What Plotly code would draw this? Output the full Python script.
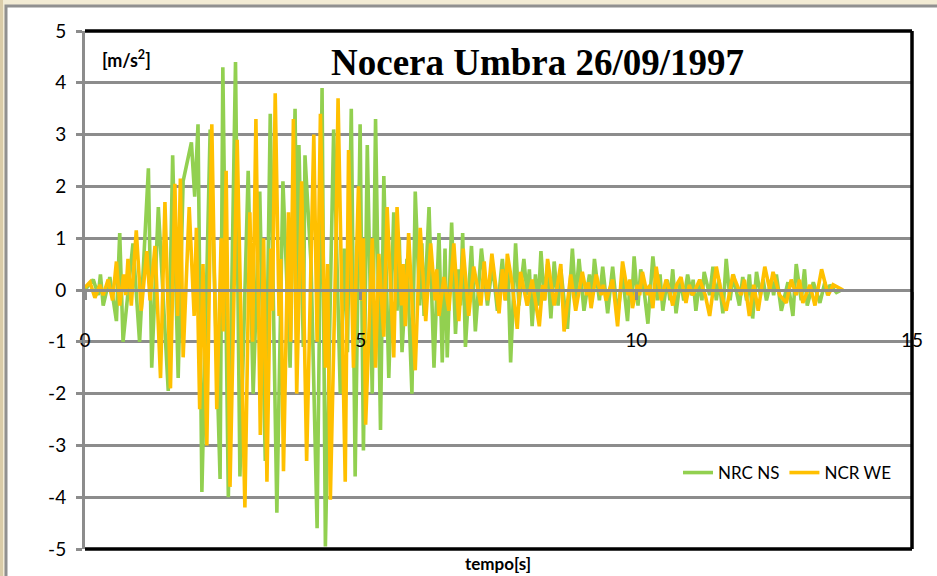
import plotly.graph_objects as go

# ---------------- data ----------------
t_ns = [0.00, 0.15, 0.24, 0.28, 0.33, 0.45, 0.57, 0.63, 0.69, 0.87, 0.99, 1.15, 1.21, 1.33, 1.51,
        1.59, 1.69, 1.78, 1.93, 1.99, 2.05, 2.12, 2.27, 2.45, 2.50, 2.60, 2.73, 2.81, 2.96, 3.05,
        3.17, 3.27, 3.36, 3.48, 3.59, 3.72, 3.81, 3.85, 3.88, 3.96, 3.99, 4.10, 4.21, 4.30, 4.36,
        4.51, 4.63, 4.70, 4.76, 4.83, 4.90, 4.99, 5.05, 5.12, 5.21, 5.27, 5.36, 5.42, 5.51, 5.60,
        5.66, 5.70, 5.75, 5.84, 5.93, 5.99, 6.07, 6.11, 6.15, 6.24, 6.33, 6.42, 6.48, 6.53, 6.57,
        6.65, 6.72, 6.78, 6.81, 6.85, 6.90, 7.01, 7.08, 7.19, 7.30, 7.39, 7.48, 7.57, 7.63, 7.67,
        7.72, 7.81, 7.87, 7.96, 8.02, 8.06, 8.11, 8.17, 8.22, 8.27, 8.33, 8.39, 8.45, 8.51, 8.58,
        8.63, 8.69, 8.75, 8.84, 8.90, 8.96, 9.05, 9.15, 9.19, 9.24, 9.33, 9.39, 9.48, 9.57, 9.66,
        9.75, 9.84, 9.89, 9.92, 9.96, 10.03, 10.08, 10.14, 10.21, 10.30, 10.38, 10.43, 10.48, 10.56,
        10.61, 10.66, 10.72, 10.80, 10.86, 10.93, 11.00, 11.03, 11.08, 11.15, 11.19, 11.23, 11.33,
        11.39, 11.45, 11.50, 11.57, 11.63, 11.70, 11.76, 11.81, 11.87, 11.93, 12.00, 12.05, 12.11,
        12.18, 12.25, 12.30, 12.36, 12.45, 12.49, 12.54, 12.63, 12.75, 12.84, 12.90, 12.99, 13.05,
        13.10, 13.21, 13.33, 13.42, 13.47, 13.51, 13.63, 13.72]
a_ns = [0.0, 0.2, -0.1, 0.3, -0.3, 0.25, -0.6, 1.1, -1.0, 0.9, -1.0, 2.35, -1.5, 1.6, -1.95,
        2.6, -1.7, 2.1, 2.85, 1.8, 3.2, -3.9, 3.1, -3.65, 4.3, -4.0, 4.4, -3.6, 2.3, -2.0,
        1.9, -3.3, 3.4, -4.3, 2.1, -1.5, 3.5, -0.5, 2.8, -1.1, 2.6, 0.5, -4.6, 3.9, -4.95,
        3.1, -2.0, 0.8, -1.2, 3.5, -3.6, 3.2, -3.1, 2.8, -2.0, 3.3, -2.7, 2.2, -1.7, 1.5,
        -0.4, 1.0, -1.2, 0.6, -2.0, 1.9, -0.3, 0.9, -0.5, 1.6, -1.5, 1.1, -1.4, 0.8, -1.3,
        1.3, -0.85, 0.4, -0.3, 1.1, -1.1, 0.85, -0.8, 0.8, -0.3, 0.5, -0.4, 0.6, -0.2, 0.5,
        -1.4, 0.9, -0.3, 0.6, -0.1, 0.4, -0.7, 0.3, -0.3, 0.75, -0.2, 0.5, -0.55, 0.55, -0.3,
        0.4, -0.2, -0.75, 0.8, -0.2, 0.6, -0.4, 0.3, -0.2, 0.6, -0.2, 0.45, -0.45, 0.45, -0.5,
        0.3, -0.6, 0.2, -0.2, 0.65, -0.3, 0.4, 0.0, -0.65, 0.65, -0.2, 0.3, -0.4, 0.2,
        -0.2, 0.4, -0.45, 0.2, -0.2, 0.3, -0.1, 0.2, -0.4, 0.2, -0.2, 0.35, -0.1,
        0.45, -0.2, 0.2, -0.45, 0.6, -0.2, 0.3, 0.0, -0.3, 0.25, -0.2, 0.3, -0.55,
        0.35, -0.1, 0.2, -0.2, 0.2, -0.1, 0.3, -0.4, 0.15, -0.5, 0.5, -0.2, 0.4,
        -0.3, 0.15, -0.25, 0.15, -0.1, 0.1, -0.05, 0.0]

t_we = [0.00, 0.09, 0.18, 0.27, 0.33, 0.42, 0.50, 0.57, 0.63, 0.70, 0.74, 0.78, 0.84, 0.93, 1.02,
        1.12, 1.18, 1.27, 1.37, 1.45, 1.55, 1.63, 1.68, 1.73, 1.78, 1.89, 1.98, 2.02, 2.08, 2.14,
        2.21, 2.30, 2.39, 2.47, 2.51, 2.56, 2.63, 2.76, 2.90, 2.99, 3.04, 3.10, 3.18, 3.24, 3.30,
        3.37, 3.40, 3.45, 3.52, 3.55, 3.60, 3.69, 3.73, 3.78, 3.84, 3.93, 4.02, 4.08, 4.11, 4.15,
        4.21, 4.27, 4.36, 4.40, 4.45, 4.52, 4.55, 4.59, 4.72, 4.78, 4.87, 4.96, 5.02, 5.05, 5.09,
        5.21, 5.27, 5.33, 5.42, 5.48, 5.54, 5.60, 5.66, 5.74, 5.77, 5.81, 5.87, 5.99, 6.08, 6.18,
        6.27, 6.35, 6.38, 6.42, 6.51, 6.60, 6.69, 6.78, 6.86, 6.96, 7.05, 7.18, 7.24, 7.30, 7.38,
        7.45, 7.51, 7.57, 7.62, 7.66, 7.75, 7.84, 7.90, 8.02, 8.11, 8.24, 8.30, 8.34, 8.39, 8.51,
        8.63, 8.69, 8.81, 8.90, 9.02, 9.10, 9.13, 9.18, 9.27, 9.36, 9.40, 9.45, 9.57, 9.66, 9.75,
        9.85, 9.88, 9.93, 10.02, 10.06, 10.11, 10.20, 10.24, 10.30, 10.36, 10.45, 10.54, 10.60,
        10.66, 10.73, 10.81, 10.90, 10.96, 11.02, 11.15, 11.25, 11.33, 11.45, 11.55, 11.63, 11.75,
        11.90, 11.96, 12.05, 12.13, 12.21, 12.33, 12.42, 12.48, 12.60, 12.72, 12.81, 12.90, 12.96,
        13.02, 13.15, 13.24, 13.36, 13.48, 13.57, 13.75]
a_we = [0.05, 0.15, -0.15, 0.1, -0.1, 0.2, -0.2, 0.55, -0.3, 0.3, -0.1, 0.6, -0.3, 1.15, -0.4,
        0.75, -0.2, 0.85, -1.7, 1.7, -1.9, 2.05, -0.5, 2.15, -1.3, 1.6, -0.5, 1.2, -2.3, 0.5,
        -3.0, 3.2, -2.3, 1.0, -0.8, 2.3, -3.8, 2.9, -4.2, 1.5, -1.0, 3.3, -2.8, 1.0, -3.7,
        0.8, -0.4, 3.8, -0.5, 0.6, -3.5, 1.5, -1.0, 3.3, -2.0, 2.1, -3.3, -0.5, 0.8, 3.0,
        -1.0, 3.4, -1.5, 0.5, -4.05, -1.0, 0.8, 3.7, -3.7, 2.7, -1.5, 2.0, -0.2, 1.0, -2.6,
        1.0, -1.5, 0.7, -0.9, 1.6, 0.2, -1.3, 1.6, -0.3, 0.5, -0.7, 1.1, -1.55, 1.2, -0.6,
        0.9, -0.2, 0.4, -0.5, 0.25, -0.4, 0.9, -0.6, 0.8, -0.5, 0.45, -0.3, 0.55, -0.2, 0.7,
        0.1, -0.45, 0.4, -0.2, 0.7, 0.1, -0.75, 0.35, -0.3, 0.2, -0.7, 0.1, -0.2, 0.6, -0.3,
        0.5, -0.8, 0.3, -0.4, 0.35, -0.1, 0.15, -0.35, 0.3, -0.1, 0.1, -0.2, 0.2, -0.7, 0.55,
        -0.1, 0.2, -0.35, 0.1, -0.1, 0.35, -0.1, 0.1, -0.35, 0.45, -0.2, 0.2, 0.0,
        -0.3, 0.1, 0.25, -0.25, 0.1, -0.1, 0.2, -0.1, -0.5, 0.45, -0.1, -0.4, 0.3,
        -0.1, 0.2, -0.5, 0.1, -0.4, 0.45, 0.0, 0.35, -0.1, -0.25, 0.2, -0.1, 0.2,
        -0.25, 0.1, -0.3, 0.4, -0.1, 0.1, 0.0]

series_names = ["NRC NS", "NCR WE"]
series_colors = ["#92D050", "#FFC000"]

y_tickvals = [-5, -4, -3, -2, -1, 0, 1, 2, 3, 4, 5]
y_ticktext = ["-5", "-4", "-3", "-2", "-1", "0", "1", "2", "3", "4", "5"]
x_tickvals = [0, 5, 10, 15]
x_ticktext = ["0", "5", "10", "15"]

title_text = "Nocera Umbra 26/09/1997"
unit_text = "[m/s<sup>2</sup>]"
x_title = "tempo[s]"

# ---------------- layout geometry ----------------
W, H = 937, 576
L, R, T, B = 85, 25, 31, 27
PW, PH = W - L - R, H - T - B


def px(x):
    return (x - L) / PW


def py(y):
    return (H - B - y) / PH


GRID = "#8C8C8C"
FONT = "Lato"

fig = go.Figure()
fig.add_trace(go.Scatter(x=t_ns, y=a_ns, mode="lines", name=series_names[0],
                         line=dict(color=series_colors[0], width=3.6)))
fig.add_trace(go.Scatter(x=t_we, y=a_we, mode="lines", name=series_names[1],
                         line=dict(color=series_colors[1], width=3.6)))

shapes = [
    # left darker strip of the page
    dict(type="rect", xref="paper", yref="paper", x0=px(-5), x1=px(3), y0=py(590), y1=py(-10),
         fillcolor="#DACCA8", line=dict(width=0), layer="below"),
    # white chart box (continues past the right and bottom edges)
    dict(type="rect", xref="paper", yref="paper", x0=px(6), x1=px(950), y0=py(590), y1=py(6),
         fillcolor="white", line=dict(color="#909090", width=3), layer="below"),
    # black frame (top, right, bottom)
    dict(type="line", xref="paper", yref="paper", x0=0, x1=1, y0=1, y1=1,
         line=dict(color="black", width=3.5), layer="above"),
    dict(type="line", xref="paper", yref="paper", x0=1, x1=1, y0=0, y1=1,
         line=dict(color="black", width=3.5), layer="above"),
    dict(type="line", xref="paper", yref="paper", x0=0, x1=1, y0=0, y1=0,
         line=dict(color="black", width=3.5), layer="above"),
]

annotations = [
    dict(text="<b>" + title_text + "</b>", xref="paper", yref="paper", x=px(537), y=py(62),
         xanchor="center", yanchor="middle", showarrow=False,
         font=dict(family="Liberation Serif", size=37, color="black")),
    dict(text="<b>" + unit_text + "</b>", xref="paper", yref="paper", x=px(100), y=py(59),
         xanchor="left", yanchor="middle", showarrow=False,
         font=dict(family=FONT, size=18, color="black")),
    dict(text="<b>" + x_title + "</b>", xref="paper", yref="paper", x=px(498), y=py(563),
         xanchor="center", yanchor="middle", showarrow=False,
         font=dict(family=FONT, size=17, color="black")),
]

fig.update_layout(
    width=W, height=H,
    margin=dict(l=L, r=R, t=T, b=B, pad=0),
    paper_bgcolor="#F2EBD4",
    plot_bgcolor="white",
    showlegend=True,
    legend=dict(orientation="h", x=px(897), y=py(473), xanchor="right", yanchor="middle",
                bgcolor="rgba(0,0,0,0)", font=dict(family=FONT, size=17, color="black"),
                itemwidth=30, tracegroupgap=0),
    xaxis=dict(range=[0, 15], tickvals=x_tickvals, ticktext=x_ticktext,
               anchor="free", position=0.5,
               showgrid=False, zeroline=False,
               showline=True, linecolor=GRID, linewidth=3,
               ticks="outside", ticklen=8, tickwidth=3, tickcolor=GRID,
               ticklabelstandoff=24,
               tickfont=dict(family=FONT, size=19, color="black")),
    yaxis=dict(range=[-5, 5], tickvals=y_tickvals, ticktext=y_ticktext,
               showgrid=True, gridcolor=GRID, gridwidth=3,
               zeroline=False,
               showline=True, linecolor=GRID, linewidth=3,
               ticks="outside", ticklen=6, tickwidth=3, tickcolor=GRID,
               ticklabelstandoff=6,
               tickfont=dict(family=FONT, size=19, color="black")),
    shapes=shapes,
    annotations=annotations,
)

fig.write_html("out.html")
